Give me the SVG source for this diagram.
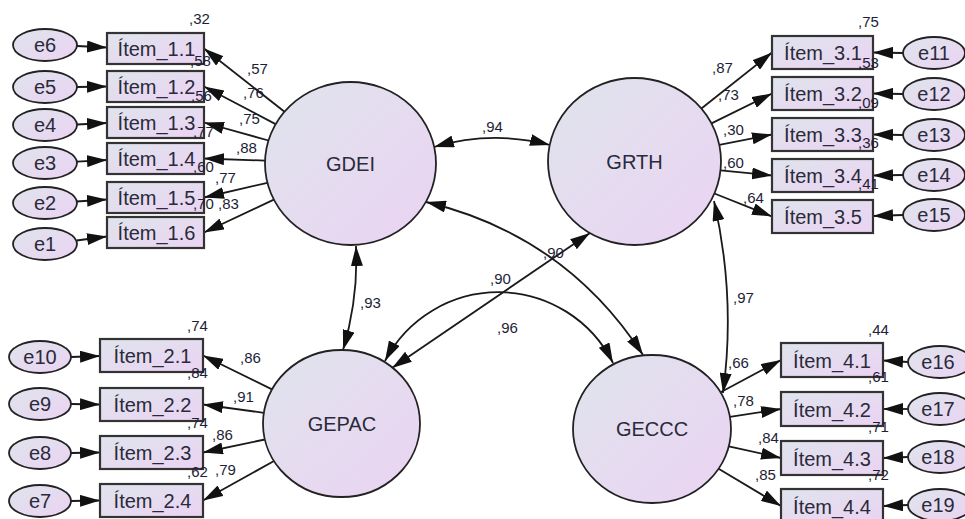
<svg xmlns="http://www.w3.org/2000/svg" width="965" height="519" viewBox="0 0 965 519">
<defs>
<linearGradient id="g" x1="0" y1="0" x2="1" y2="1">
<stop offset="0" stop-color="#dfe4ec"/>
<stop offset="1" stop-color="#ebd3f3"/>
</linearGradient>
<marker id="ah" viewBox="0 0 20 12" refX="20" refY="6" markerWidth="20" markerHeight="12" markerUnits="userSpaceOnUse" orient="auto-start-reverse">
<path d="M0,0 L20,6 L0,12 z" fill="#111"/>
</marker>
<style>
.lat{fill:url(#g);stroke:#222;stroke-width:1.8}
.box{fill:url(#g);stroke:#333;stroke-width:2.2}
.err{fill:url(#g);stroke:#222;stroke-width:1.8}
.big{font-family:"Liberation Sans",Arial,sans-serif;font-size:20px;fill:#2a2a3a;text-anchor:middle}
.num{font-family:"Liberation Sans",Arial,sans-serif;font-size:15px;fill:#1e1e36}
.c{fill:none;stroke:#1a1a1a;stroke-width:1.8;marker-end:url(#ah)}
.d{fill:none;stroke:#1a1a1a;stroke-width:1.8;marker-end:url(#ah);marker-start:url(#ah)}
</style>
</defs>
<rect width="965" height="519" fill="#fff"/>

<g id="connectors">
<path class="c" d="M77,46 L107,47.5"/>
<path class="c" d="M77,87 L107,86.5"/>
<path class="c" d="M77,124.5 L107,123"/>
<path class="c" d="M77,161.7 L107,160"/>
<path class="c" d="M76.5,201.5 L107,199.5"/>
<path class="c" d="M76.5,240.5 L107,236.5"/>
<path class="c" d="M71,357 L100,356"/>
<path class="c" d="M71,404 L100,404.5"/>
<path class="c" d="M71,453 L100,452.5"/>
<path class="c" d="M71,501 L100,500.5"/>
<path class="c" d="M903,53 L873,52.5"/>
<path class="c" d="M903,94 L873,93.5"/>
<path class="c" d="M903,135 L873,134.5"/>
<path class="c" d="M903,175 L873,175.5"/>
<path class="c" d="M903,215 L873,216"/>
<path class="c" d="M908,362 L883,360.5"/>
<path class="c" d="M908,409 L883,409"/>
<path class="c" d="M908,457 L883,458"/>
<path class="c" d="M908,505 L883,506"/>
<path class="c" d="M284.5,111.7 L204,48.5"/>
<path class="c" d="M275.6,124.1 L204,86.5"/>
<path class="c" d="M268.5,140.5 L204,122.5"/>
<path class="c" d="M265,160.6 L204,158.5"/>
<path class="c" d="M267.4,182.8 L204,197.5"/>
<path class="c" d="M273.8,199.6 L204,232.5"/>
<path class="c" d="M272,389.4 L203,355.5"/>
<path class="c" d="M263.8,412.8 L203,404.5"/>
<path class="c" d="M264.9,439.5 L203,452.5"/>
<path class="c" d="M274,461 L203,500.5"/>
<path class="c" d="M701.4,108.5 L772,52.5"/>
<path class="c" d="M711.5,123.4 L772,93.5"/>
<path class="c" d="M719.3,144.9 L772,134.5"/>
<path class="c" d="M720.5,170.3 L772,175.5"/>
<path class="c" d="M714.4,193.5 L772,216.5"/>
<path class="c" d="M720.6,392.3 L781,360"/>
<path class="c" d="M729.9,416.9 L781,409"/>
<path class="c" d="M728.8,446.3 L781,458"/>
<path class="c" d="M718.6,468.8 L781,506"/>
<path class="d" d="M434,147 Q492,130 550,145"/>
<path class="d" d="M356,246 Q358.5,298 343,350"/>
<path class="d" d="M426,202 Q565,235 643,355"/>
<path class="d" d="M590,233 L392,368"/>
<path class="d" d="M385,361 A128,128 0 0 1 613,363"/>
<path class="d" d="M714,201 Q736,297 723,393"/>
</g>

<g id="GDEI"><ellipse class="lat" cx="350.5" cy="163.5" rx="85.5" ry="81.5"/><text class="big" x="350.5" y="171">GDEI</text></g>
<g id="GRTH"><ellipse class="lat" cx="634.5" cy="161.5" rx="86.5" ry="83.5"/><text class="big" x="634.5" y="169">GRTH</text></g>
<g id="GEPAC"><ellipse class="lat" cx="341.5" cy="423.5" rx="78.5" ry="73.5"/><text class="big" x="342" y="431">GEPAC</text></g>
<g id="GECCC"><ellipse class="lat" cx="652" cy="429" rx="79" ry="74"/><text class="big" x="652" y="436">GECCC</text></g>

<g id="item_1_1"><rect class="box" x="107" y="33" width="97" height="31"/><text class="big" x="156.5" y="56">Ítem_1.1</text></g>
<g id="item_1_2"><rect class="box" x="107" y="71" width="97" height="31"/><text class="big" x="156.5" y="94">Ítem_1.2</text></g>
<g id="item_1_3"><rect class="box" x="107" y="107" width="97" height="31"/><text class="big" x="156.5" y="130">Ítem_1.3</text></g>
<g id="item_1_4"><rect class="box" x="107" y="143" width="97" height="31"/><text class="big" x="156.5" y="166">Ítem_1.4</text></g>
<g id="item_1_5"><rect class="box" x="107" y="182" width="97" height="31"/><text class="big" x="156.5" y="205">Ítem_1.5</text></g>
<g id="item_1_6"><rect class="box" x="107" y="217" width="97" height="31"/><text class="big" x="156.5" y="240">Ítem_1.6</text></g>

<g id="item_2_1"><rect class="box" x="100" y="339" width="103" height="33"/><text class="big" x="152.5" y="363">Ítem_2.1</text></g>
<g id="item_2_2"><rect class="box" x="100" y="388" width="103" height="33"/><text class="big" x="152.5" y="412">Ítem_2.2</text></g>
<g id="item_2_3"><rect class="box" x="100" y="436" width="103" height="33"/><text class="big" x="152.5" y="460">Ítem_2.3</text></g>
<g id="item_2_4"><rect class="box" x="100" y="484" width="103" height="33"/><text class="big" x="152.5" y="508">Ítem_2.4</text></g>

<g id="item_3_1"><rect class="box" x="772" y="36" width="101" height="33"/><text class="big" x="823" y="60">Ítem_3.1</text></g>
<g id="item_3_2"><rect class="box" x="772" y="77" width="101" height="33"/><text class="big" x="823" y="101">Ítem_3.2</text></g>
<g id="item_3_3"><rect class="box" x="772" y="118" width="101" height="33"/><text class="big" x="823" y="142">Ítem_3.3</text></g>
<g id="item_3_4"><rect class="box" x="772" y="159" width="101" height="33"/><text class="big" x="823" y="183">Ítem_3.4</text></g>
<g id="item_3_5"><rect class="box" x="772" y="200" width="101" height="33"/><text class="big" x="823" y="224">Ítem_3.5</text></g>

<g id="item_4_1"><rect class="box" x="781" y="343" width="102" height="34"/><text class="big" x="832" y="368">Ítem_4.1</text></g>
<g id="item_4_2"><rect class="box" x="781" y="392" width="102" height="34"/><text class="big" x="832" y="417">Ítem_4.2</text></g>
<g id="item_4_3"><rect class="box" x="781" y="441" width="102" height="34"/><text class="big" x="832" y="466">Ítem_4.3</text></g>
<g id="item_4_4"><rect class="box" x="781" y="489" width="102" height="34"/><text class="big" x="832" y="514">Ítem_4.4</text></g>

<g id="e6"><ellipse class="err" cx="45" cy="45" rx="32" ry="16"/><text class="big" x="45" y="52">e6</text></g>
<g id="e5"><ellipse class="err" cx="45" cy="87" rx="32" ry="16"/><text class="big" x="45" y="94">e5</text></g>
<g id="e4"><ellipse class="err" cx="45" cy="125" rx="32" ry="16"/><text class="big" x="45" y="132">e4</text></g>
<g id="e3"><ellipse class="err" cx="45" cy="163" rx="32" ry="16"/><text class="big" x="45" y="170">e3</text></g>
<g id="e2"><ellipse class="err" cx="45" cy="203" rx="32" ry="16"/><text class="big" x="45" y="210">e2</text></g>
<g id="e1"><ellipse class="err" cx="45" cy="244" rx="32" ry="16"/><text class="big" x="45" y="251">e1</text></g>
<g id="e10"><ellipse class="err" cx="40" cy="357" rx="31" ry="16"/><text class="big" x="40" y="364">e10</text></g>
<g id="e9"><ellipse class="err" cx="40" cy="404" rx="31" ry="16"/><text class="big" x="40" y="411">e9</text></g>
<g id="e8"><ellipse class="err" cx="40" cy="453" rx="31" ry="16"/><text class="big" x="40" y="460">e8</text></g>
<g id="e7"><ellipse class="err" cx="40" cy="501" rx="31" ry="16"/><text class="big" x="40" y="508">e7</text></g>
<g id="e11"><ellipse class="err" cx="934" cy="53" rx="31" ry="16"/><text class="big" x="934" y="60">e11</text></g>
<g id="e12"><ellipse class="err" cx="934" cy="94" rx="31" ry="16"/><text class="big" x="934" y="101">e12</text></g>
<g id="e13"><ellipse class="err" cx="934" cy="135" rx="31" ry="16"/><text class="big" x="934" y="142">e13</text></g>
<g id="e14"><ellipse class="err" cx="934" cy="175" rx="31" ry="16"/><text class="big" x="934" y="182">e14</text></g>
<g id="e15"><ellipse class="err" cx="934" cy="215" rx="31" ry="16"/><text class="big" x="934" y="222">e15</text></g>
<g id="e16"><ellipse class="err" cx="940" cy="362" rx="32" ry="16"/><text class="big" x="938" y="369">e16</text></g>
<g id="e17"><ellipse class="err" cx="940" cy="409" rx="32" ry="16"/><text class="big" x="938" y="416">e17</text></g>
<g id="e18"><ellipse class="err" cx="940" cy="457" rx="32" ry="16"/><text class="big" x="938" y="464">e18</text></g>
<g id="e19"><ellipse class="err" cx="940" cy="505" rx="32" ry="16"/><text class="big" x="938" y="512">e19</text></g>

<g id="labels" class="num">
<text x="247" y="74">,57</text>
<text x="243" y="98">,76</text>
<text x="239" y="124">,75</text>
<text x="236" y="153">,88</text>
<text x="215" y="183">,77</text>
<text x="218" y="209">,83</text>
<text x="240" y="363">,86</text>
<text x="233" y="402">,91</text>
<text x="212" y="440">,86</text>
<text x="215" y="475">,79</text>
<text x="712" y="73">,87</text>
<text x="718" y="100">,73</text>
<text x="723" y="135">,30</text>
<text x="723" y="168">,60</text>
<text x="743" y="203">,64</text>
<text x="728" y="368">,66</text>
<text x="733" y="406">,78</text>
<text x="758" y="443">,84</text>
<text x="755" y="480">,85</text>
<text x="482" y="132">,94</text>
<text x="543" y="258">,90</text>
<text x="490" y="284">,90</text>
<text x="497" y="333">,96</text>
<text x="360" y="308">,93</text>
<text x="733" y="303">,97</text>
</g>

<g id="r2labels" class="num">
<text x="189" y="24">,32</text>
<text x="190" y="66">,58</text>
<text x="191" y="101">,56</text>
<text x="193" y="137">,77</text>
<text x="193" y="172">,60</text>
<text x="193" y="209">,70</text>
<text x="187" y="331">,74</text>
<text x="187" y="378">,84</text>
<text x="187" y="428">,74</text>
<text x="187" y="477">,62</text>
<text x="858" y="27">,75</text>
<text x="858" y="68">,53</text>
<text x="858" y="108">,09</text>
<text x="858" y="148">,36</text>
<text x="858" y="189">,41</text>
<text x="868" y="335">,44</text>
<text x="868" y="382">,61</text>
<text x="868" y="432">,71</text>
<text x="868" y="480">,72</text>
</g>
</svg>
